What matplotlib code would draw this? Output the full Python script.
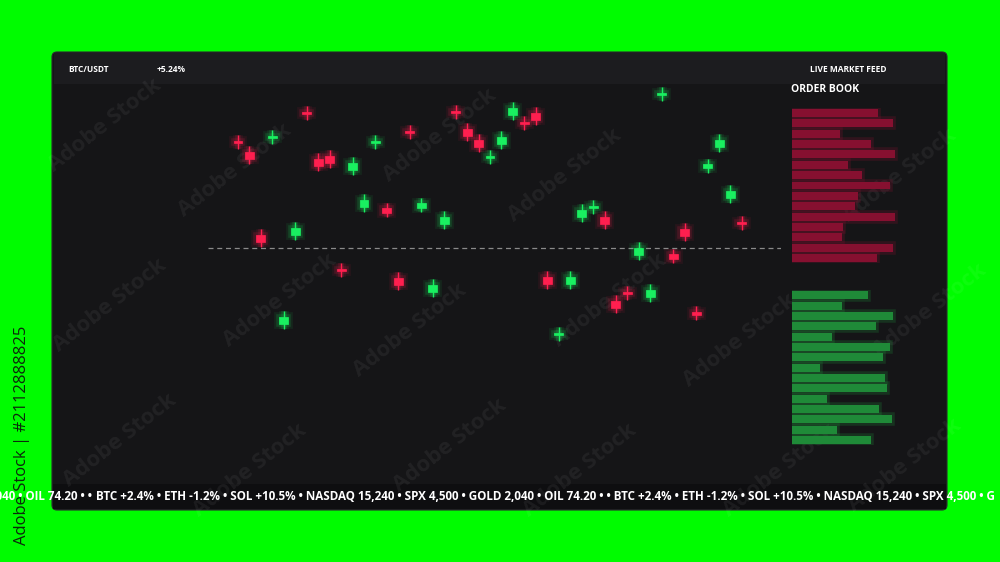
import matplotlib
matplotlib.use("Agg")
import matplotlib.pyplot as plt
import matplotlib.patheffects as pe
from matplotlib.patches import FancyBboxPatch, Rectangle
import numpy as np

# ---------------- DATA ----------------
candle_open = [329, 318.5, 235.5, 332, 146.5, 235.5, 358, 311.5, 314.5, 201,
               300.5, 263.5, 327, 262.5, 192.5, 339, 262.5, 178.5, 246.5, 359,
               341.5, 330.5, 312, 326.5, 355.5, 348, 357.5, 193.5, 135, 186.5,
               253.5, 262, 253.5, 169.5, 178, 215.5, 173.5, 375, 216.5, 241.5,
               158.5, 302, 323.5, 272.5, 248]
candle_close = [327, 311.5, 228.5, 334, 153.5, 242.5, 356, 304.5, 307.5, 199,
                307.5, 270.5, 329, 257.5, 185.5, 337, 267.5, 185.5, 253.5, 357,
                334.5, 323.5, 314, 333.5, 362.5, 346, 350.5, 186.5, 137, 193.5,
                260.5, 264, 246.5, 162.5, 176, 222.5, 180.5, 377, 211.5, 234.5,
                155.5, 306, 330.5, 279.5, 246]
candle_high = [335, 324, 241, 340, 159, 248, 364, 317, 320, 207,
               313, 276, 335, 267, 198, 345, 272, 191, 259, 365,
               347, 336, 320, 339, 368, 354, 363, 199, 143, 199,
               266, 270, 259, 175, 184, 228, 186, 383, 221, 247,
               164, 311, 336, 285, 254]
candle_low = [321, 306, 223, 326, 141, 230, 350, 299, 302, 193,
              295, 258, 321, 253, 180, 331, 258, 173, 241, 351,
              329, 318, 306, 321, 350, 340, 345, 181, 129, 181,
              248, 256, 241, 157, 170, 210, 168, 369, 207, 229,
              150, 297, 318, 267, 240]
reference_price = 222

ask_sizes = [86, 101, 48, 79, 103, 56, 70, 98, 66, 63, 103, 51, 50, 101, 85]
bid_sizes = [76, 50, 101, 84, 40, 98, 91, 28, 93, 95, 35, 87, 100, 45, 79]

pair_label = "BTC/USDT"
change_label = "+5.24%"
feed_label = "LIVE MARKET FEED"
book_label = "ORDER BOOK"
ticker_items = ["BTC +2.4%", "ETH -1.2%", "SOL +10.5%", "NASDAQ 15,240",
                "SPX 4,500", "GOLD 2,040", "OIL 74.20"]
side_label = "Adobe Stock | #2112888825"

# ---------------- STYLE ----------------
W, H = 1000, 562
BG_GREEN = "#00fc00"
PANEL = "#151517"
HEADER = "#1c1c1f"
TICKER_BG = "#0e0e10"
RED = "#ff1f4f"
GREEN = "#19f060"
FONT = ["Open Sans", "DejaVu Sans"]

fig = plt.figure(figsize=(W / 100, H / 100), dpi=100)
fig.patch.set_facecolor(BG_GREEN)

bg = fig.add_axes([0, 0, 1, 1])
bg.set_xlim(0, W)
bg.set_ylim(H, 0)
bg.axis("off")

# panel
bg.add_patch(FancyBboxPatch((52, 52), 895, 458, boxstyle="round,pad=0,rounding_size=5",
                            fc=PANEL, ec="#2a2a2e", lw=0.8, zorder=1))
bg.add_patch(Rectangle((54, 53), 891, 31, fc=HEADER, ec="none", zorder=2))
bg.add_patch(Rectangle((53, 484), 893, 25, fc=TICKER_BG, ec="none", zorder=2))

# header texts
bg.text(68, 70, pair_label, color="white", fontsize=6, fontweight="bold",
        family=FONT, va="center", ha="left", zorder=5)
bg.text(157, 70, change_label, color="white", fontsize=6, fontweight="bold",
        family=FONT, va="center", ha="left", zorder=5)
bg.text(848, 70, feed_label, color="white", fontsize=6, fontweight="bold",
        family=FONT, va="center", ha="center", zorder=5)
bg.text(791, 90, book_label, color="white", fontsize=7.5, fontweight="bold",
        family=FONT, va="center", ha="left", zorder=5)

# ticker
sep = " \u2022 "
cycle = sep.join(ticker_items) + " \u2022 \u2022 "
bg.text(96, 496, cycle + sep.join(ticker_items[:5]) + sep + "G", color="white",
        fontsize=8.4, fontweight="bold", family=FONT, va="center", ha="left", zorder=5)
bg.text(92, 496, "GOLD 2,040" + sep + "OIL 74.20" + sep + "\u2022", color="white",
        fontsize=8.4, fontweight="bold", family=FONT, va="center", ha="right", zorder=5)

# side label
bg.text(22, 545, side_label, color="#0c280c", fontsize=12, rotation=90,
        family=FONT, va="bottom", ha="center", zorder=6)

# watermarks
wm_centers = [(105, 125), (235, 170), (280, 300), (440, 135), (565, 175), (610, 300),
              (410, 330), (900, 175), (930, 310), (740, 340), (110, 305),
              (120, 440), (250, 470), (450, 445), (580, 470), (780, 470), (905, 465)]
for cx, cy in wm_centers:
    bg.text(cx, cy, "Adobe Stock", color="white", alpha=0.06, fontsize=16,
            fontweight="bold", family=FONT, rotation=38, ha="center", va="center", zorder=20)

# ---------------- CANDLES ----------------
ax = fig.add_axes([208 / W, (H - 470) / H, 573 / W, 385 / H])
ax.set_facecolor("none")
ax.axis("off")
n = len(candle_open)
x = np.arange(n)
ax.set_xlim(-2.62, 47.41)
ax.set_ylim(0, 385)

ax.axhline(reference_price, color="#8a8a8a", lw=0.9, ls=(0, (4, 3)), zorder=1)

for i in range(n):
    o, c, hi, lo = candle_open[i], candle_close[i], candle_high[i], candle_low[i]
    col = GREEN if c >= o else RED
    glow = [pe.Stroke(linewidth=7, foreground=col, alpha=0.08),
            pe.Stroke(linewidth=4, foreground=col, alpha=0.15), pe.Normal()]
    ln = ax.vlines(x[i], lo, hi, color=col, lw=1.0, zorder=3)
    ln.set_path_effects(glow)
    b = ax.bar(x[i], abs(c - o), bottom=min(o, c), width=0.78, color=col,
               edgecolor=col, lw=0.5, zorder=4)
    for p in b:
        p.set_path_effects(glow)

# ---------------- ORDER BOOK ----------------
axa = fig.add_axes([792 / W, (H - 263.2) / H, 115 / W, 155.4 / H])
axa.set_facecolor("none")
axa.axis("off")
axa.set_xlim(0, 115)
axa.set_ylim(14.5, -0.5)
bars = axa.barh(np.arange(len(ask_sizes)), ask_sizes, height=0.77, color="#861030", zorder=3)
for p in bars:
    p.set_path_effects([pe.Stroke(linewidth=4, foreground="#861030", alpha=0.25), pe.Normal()])

axb = fig.add_axes([792 / W, (H - 445.2) / H, 115 / W, 154.9 / H])
axb.set_facecolor("none")
axb.axis("off")
axb.set_xlim(0, 115)
axb.set_ylim(14.5, -0.5)
bars = axb.barh(np.arange(len(bid_sizes)), bid_sizes, height=0.77, color="#1f8a38", zorder=3)
for p in bars:
    p.set_path_effects([pe.Stroke(linewidth=4, foreground="#1f8a38", alpha=0.25), pe.Normal()])

fig.savefig("out.png", dpi=100, facecolor=fig.get_facecolor())
